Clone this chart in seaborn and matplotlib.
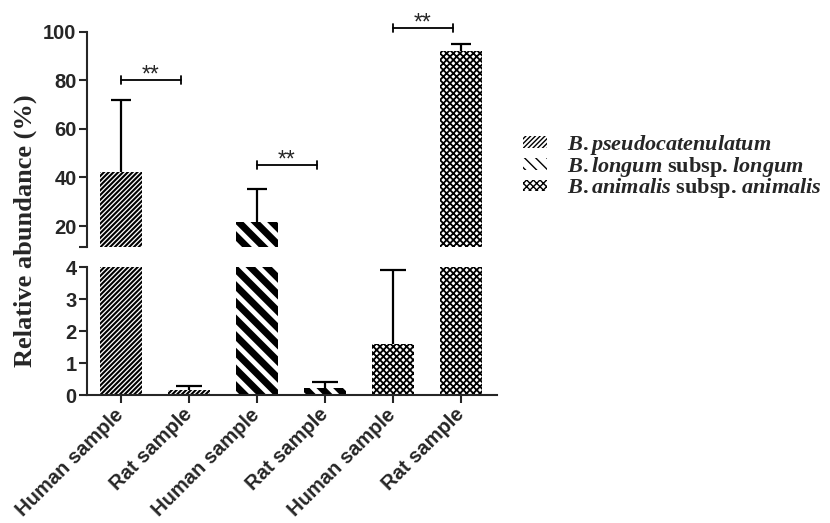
import matplotlib
matplotlib.use("Agg")
import matplotlib.pyplot as plt
import seaborn as sns
import numpy as np
import pandas as pd
from matplotlib.patches import Patch
from matplotlib.font_manager import FontProperties

# bar data (left to right)
groups = ["pseudo_human", "pseudo_rat", "longum_human", "longum_rat", "animalis_human", "animalis_rat"]
species = ["pseudo", "pseudo", "longum", "longum", "animalis", "animalis"]
tick_labels = ["Human sample", "Rat sample", "Human sample", "Rat sample", "Human sample", "Rat sample"]
abundance = [42.4, 0.15, 21.8, 0.23, 1.6, 92.2]
sd_upper = [29.5, 0.14, 13.3, 0.19, 2.33, 2.6]

species_order = ["pseudo", "longum", "animalis"]
legend_labels = [r"$\mathit{B.pseudocatenulatum}$",
                 r"$\mathit{B.longum}$ subsp. $\mathit{longum}$",
                 r"$\mathit{B.animalis}$ subsp. $\mathit{animalis}$"]

# significance brackets: left bar index and height
sig_left = [0, 2, 4]
sig_height = [80, 45, 101.5]

hatches = ["///////", "\\\\", "xxxxx"]
hatch_lw = [1.5, 5.0, 1.3]
# legend swatches are small, so the stripes get a finer pattern there
legend_hatches = ["///////", "\\\\\\", "xxxxx"]
legend_hatch_lw = [1.5, 2.8, 1.3]

df = pd.DataFrame({"group": groups, "species": species, "value": abundance})

sns.set_style("ticks")
plt.rcParams["font.family"] = ["Liberation Sans", "DejaVu Sans"]
plt.rcParams["font.weight"] = "bold"
plt.rcParams["mathtext.fontset"] = "custom"
plt.rcParams["mathtext.it"] = "Liberation Serif:italic:bold"
plt.rcParams["mathtext.rm"] = "Liberation Serif:bold"
plt.rcParams["mathtext.bf"] = "Liberation Serif:bold"
plt.rcParams["hatch.color"] = "black"

fig = plt.figure(figsize=(8.3, 5.23), dpi=100)
ax_top = fig.add_axes([0.1048, 0.5283, 0.494, 0.4111])
ax_bot = fig.add_axes([0.1048, 0.2447, 0.494, 0.2442])


def style_bars(ax):
    for cont, h, lw in zip(ax.containers, hatches, hatch_lw):
        for bar in cont:
            bar.set_facecolor("white")
            bar.set_edgecolor("black")
            bar.set_linewidth(0)
            bar.set_hatch(h)
            if hasattr(bar, "set_hatch_linewidth"):
                bar.set_hatch_linewidth(lw)


for ax, cap in [(ax_top, 0.30), (ax_bot, 0.38)]:
    sns.barplot(data=df, x="group", y="value", hue="species", order=groups,
                hue_order=species_order, dodge=False, width=0.63, errorbar=None,
                palette=["white"] * 3, legend=False, ax=ax)
    style_bars(ax)
    xs = np.arange(len(groups))
    tops = np.array(abundance) + np.array(sd_upper)
    ax.vlines(xs, abundance, tops, color="black", lw=1.6, zorder=5)
    ax.hlines(tops, xs - cap / 2, xs + cap / 2, color="black", lw=1.6, zorder=5)
    ax.set_xlim(-0.5, 5.53)
    ax.set_xlabel("")
    ax.set_ylabel("")
    for s in ["top", "right"]:
        ax.spines[s].set_visible(False)
    for s in ["left", "bottom"]:
        ax.spines[s].set_linewidth(1.5)
    ax.tick_params(width=1.5, length=6, labelsize=14.5, pad=1.5)

# top part of the broken axis
ax_top.set_ylim(11.5, 100)
ax_top.set_yticks([11.5, 20, 40, 60, 80, 100])
ax_top.set_yticklabels(["", "20", "40", "60", "80", "100"])
ax_top.spines["bottom"].set_visible(False)
ax_top.tick_params(axis="x", bottom=False, labelbottom=False)

for i, y in zip(sig_left, sig_height):
    ax_top.plot([i, i + 0.88], [y, y], color="black", lw=1.3, clip_on=False)
    ax_top.plot([i, i], [y - 1.6, y + 1.6], color="black", lw=1.3, clip_on=False)
    ax_top.plot([i + 0.88, i + 0.88], [y - 1.6, y + 1.6], color="black", lw=1.3, clip_on=False)
    ax_top.text(i + 0.44, y - 0.6, "**", ha="center", va="baseline", fontsize=16.5,
                fontweight="normal", clip_on=False)

# bottom part
ax_bot.set_ylim(0, 4)
ax_bot.set_yticks([0, 1, 2, 3, 4])
ax_bot.set_xticks(range(len(groups)))
ax_bot.set_xticklabels(tick_labels, rotation=45, ha="right", va="center",
                       rotation_mode="anchor")
ax_bot.tick_params(axis="x", pad=6)

fig.text(0.030, 0.558, "Relative abundance (%)", rotation=90, ha="center", va="center",
         family="Liberation Serif", fontweight="bold", fontsize=19)

handles = []
for h, lw in zip(legend_hatches, legend_hatch_lw):
    p = Patch(facecolor="white", edgecolor="black", linewidth=0, hatch=h)
    if hasattr(p, "set_hatch_linewidth"):
        p.set_hatch_linewidth(lw)
    handles.append(p)
fig.legend(handles, legend_labels, loc="upper left", bbox_to_anchor=(0.630, 0.746),
           frameon=False, borderpad=0, borderaxespad=0, handlelength=1.1,
           handleheight=0.45, handletextpad=0.9, labelspacing=-0.1,
           prop=FontProperties(family="Liberation Serif", weight="bold", size=16))

fig.savefig("out.png", dpi=100, facecolor="white")
